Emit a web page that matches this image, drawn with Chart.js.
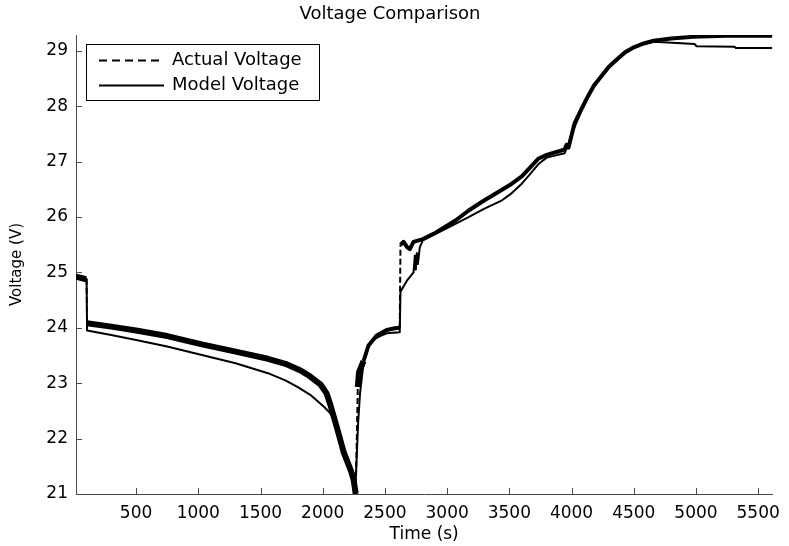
<!DOCTYPE html>
<html>
<head>
<meta charset="utf-8">
<script src="https://cdn.jsdelivr.net/npm/chart.js@4/dist/chart.umd.min.js"></script>
<style>
  html, body { margin: 0; padding: 0; background: #fff; }
  #wrap { width: 789px; height: 546px; }
</style>
</head>
<body>
<div id="wrap"><canvas id="c" width="789" height="546"></canvas></div>
<script>
// ---- data ----
const chartTitle = "Voltage Comparison";
const xAxisTitle = "Time (s)";
const yAxisTitle = "Voltage (V)";
const seriesNames = ["Actual Voltage", "Model Voltage"];

const actualTime = [17, 90, 102, 106, 300, 500, 750, 1029, 1300, 1560, 1700, 1822, 1900, 1981, 2030, 2060, 2120, 2169, 2230, 2249, 2265,
  2282, 2292, 2328, 2368, 2434, 2514, 2580, 2619, 2625, 2650, 2680, 2700, 2730, 2805, 2911, 3070, 3176, 3300, 3441, 3520, 3600,
  3670, 3732, 3800, 3891, 3944, 3960, 3975, 4024, 4080, 4130, 4180, 4236, 4300, 4368, 4430, 4500, 4580, 4660, 4800, 4978, 5242, 5614];
const actualVoltage = [24.92, 24.88, 24.88, 24.08, 24.02, 23.95, 23.85, 23.70, 23.57, 23.44, 23.35, 23.23, 23.12, 22.98, 22.82, 22.62, 22.15, 21.75, 21.40, 21.25, 21.00,
  22.93, 23.20, 23.40, 23.68, 23.86, 23.96, 23.99, 24.00, 25.50, 25.55, 25.45, 25.42, 25.55, 25.60, 25.72, 25.94, 26.12, 26.30, 26.49, 26.60, 26.73,
  26.90, 27.05, 27.12, 27.18, 27.22, 27.30, 27.25, 27.69, 27.95, 28.17, 28.37, 28.53, 28.71, 28.85, 28.97, 29.06, 29.13, 29.18, 29.22, 29.25, 29.27, 29.27];

const modelTime = [17, 102, 106, 300, 500, 750, 1029, 1300, 1560, 1700, 1800, 1900, 2012, 2063, 2100, 2142, 2200, 2240, 2261,
  2270, 2285, 2300, 2328, 2368, 2400, 2434, 2470, 2514, 2619, 2625, 2680, 2730, 2740, 2748, 2756, 2765, 2780, 2805, 2911, 3000, 3070, 3176,
  3300, 3441, 3520, 3600, 3670, 3732, 3800, 3891, 3944, 3980, 4024, 4080, 4130, 4180, 4236, 4300, 4368, 4430, 4500, 4580, 4660, 4990, 5005, 5310, 5320, 5614];
const modelVoltage = [24.90, 24.88, 23.95, 23.87, 23.78, 23.66, 23.51, 23.36, 23.18, 23.05, 22.93, 22.79, 22.57, 22.45, 22.28, 21.97, 21.60, 21.25, 21.00,
  21.50, 22.30, 22.82, 23.36, 23.66, 23.76, 23.82, 23.86, 23.90, 23.92, 24.65, 24.86, 25.00, 25.30, 25.05, 25.35, 25.15, 25.45, 25.58, 25.70, 25.80, 25.88, 26.00,
  26.15, 26.30, 26.43, 26.60, 26.78, 26.95, 27.07, 27.12, 27.15, 27.35, 27.62, 27.92, 28.15, 28.35, 28.52, 28.69, 28.83, 28.95, 29.05, 29.12, 29.16, 29.12, 29.08, 29.07, 29.05, 29.05];

const xTickValues = [500, 1000, 1500, 2000, 2500, 3000, 3500, 4000, 4500, 5000, 5500];
const yTickValues = [21, 22, 23, 24, 25, 26, 27, 28, 29];

// ---- chart ----
const FONT = "'DejaVu Sans', 'Liberation Sans', Arial, sans-serif";
const AXIS_COLOR = '#4a4a4a';

const toPts = (xs, ys) => xs.map((x, i) => ({ x: x, y: ys[i] }));

const innerTicks = {
  id: 'innerTicks',
  afterDraw(chart) {
    const ctx = chart.ctx, xs = chart.scales.x, ys = chart.scales.y;
    const a = chart.chartArea;
    ctx.save();
    ctx.strokeStyle = AXIS_COLOR;
    ctx.lineWidth = 1;
    ctx.beginPath();
    xs.ticks.forEach(t => {
      const px = Math.round(xs.getPixelForValue(t.value)) + 0.5;
      ctx.moveTo(px, a.bottom); ctx.lineTo(px, a.bottom - 6);
    });
    ys.ticks.forEach(t => {
      const py = Math.round(ys.getPixelForValue(t.value)) + 0.5;
      ctx.moveTo(a.left, py); ctx.lineTo(a.left + 6, py);
    });
    ctx.stroke();
    ctx.restore();
  }
};

const boxLegend = {
  id: 'boxLegend',
  afterDraw(chart) {
    const ctx = chart.ctx;
    const bx = 86.5, by = 44.5, bw = 233, bh = 56;
    ctx.save();
    ctx.fillStyle = '#fff';
    ctx.fillRect(bx, by, bw, bh);
    ctx.strokeStyle = '#000';
    ctx.lineWidth = 1;
    ctx.strokeRect(bx, by, bw, bh);
    const rows = [60.5, 85.5];
    chart.data.datasets.forEach((ds, i) => {
      ctx.beginPath();
      ctx.lineWidth = 2.2;
      ctx.strokeStyle = '#000';
      ctx.setLineDash(i === 0 ? [8, 5] : []);
      ctx.moveTo(99, rows[i]); ctx.lineTo(164, rows[i]);
      ctx.stroke();
      ctx.setLineDash([]);
      ctx.fillStyle = '#000';
      ctx.font = '18px ' + FONT;
      ctx.textBaseline = 'middle';
      ctx.textAlign = 'left';
      ctx.fillText(ds.label, 172, rows[i]);
    });
    ctx.restore();
  }
};

new Chart(document.getElementById('c'), {
  type: 'line',
  data: {
    datasets: [
      {
        label: seriesNames[0],
        data: toPts(actualTime, actualVoltage),
        borderColor: '#000',
        borderWidth: 4,
        pointRadius: 0,
        tension: 0,
        borderJoinStyle: 'round',
        segment: {
          borderDash: ctx => {
            const dx = Math.abs(ctx.p1.x - ctx.p0.x), dy = Math.abs(ctx.p1.y - ctx.p0.y);
            return (dy > 25 && dy > 4 * dx) ? [6, 3] : undefined;
          },
          borderWidth: ctx => {
            const dx = Math.abs(ctx.p1.x - ctx.p0.x), dy = Math.abs(ctx.p1.y - ctx.p0.y);
            if (dy > 25 && dy > 4 * dx) return 2;
            return ctx.p0.parsed.x < 2300 ? 6 : 4;
          }
        }
      },
      {
        label: seriesNames[1],
        data: toPts(modelTime, modelVoltage),
        borderColor: '#000',
        borderWidth: 2,
        pointRadius: 0,
        tension: 0,
        borderJoinStyle: 'round'
      }
    ]
  },
  options: {
    responsive: false,
    animation: false,
    events: [],
    layout: { padding: { left: 0, right: 9, top: 0, bottom: 0 } },
    plugins: {
      legend: { display: false },
      tooltip: { enabled: false },
      title: {
        display: true,
        text: chartTitle,
        color: '#000',
        font: { family: FONT, size: 18, weight: 'normal', lineHeight: 1.2 },
        padding: { top: 4, bottom: 9.4 }
      }
    },
    scales: {
      x: {
        type: 'linear',
        min: 17,
        max: 5614,
        grid: { display: false, drawTicks: false },
        border: { display: true, color: AXIS_COLOR, width: 1 },
        afterBuildTicks: s => { s.ticks = xTickValues.map(v => ({ value: v })); },
        ticks: { color: '#000', padding: 9, maxRotation: 0, autoSkip: false, font: { family: FONT, size: 17 },
                 callback: v => String(v) },
        title: { display: true, text: xAxisTitle, color: '#000', font: { family: FONT, size: 17 }, padding: { top: 0, bottom: 1 } },
        afterFit: s => { s.height = 52; }
      },
      y: {
        type: 'linear',
        min: 21,
        max: 29.283,
        grid: { display: false, drawTicks: false },
        border: { display: true, color: AXIS_COLOR, width: 1 },
        afterBuildTicks: s => { s.ticks = yTickValues.map(v => ({ value: v })); },
        ticks: { color: '#000', padding: 8, autoSkip: false, font: { family: FONT, size: 17 },
                 callback: v => String(v) },
        title: { display: true, text: yAxisTitle, color: '#000', font: { family: FONT, size: 15 }, padding: { top: 8, bottom: 0 } },
        afterFit: s => { s.width = 76; }
      }
    }
  },
  plugins: [innerTicks, boxLegend]
});
</script>
</body>
</html>
